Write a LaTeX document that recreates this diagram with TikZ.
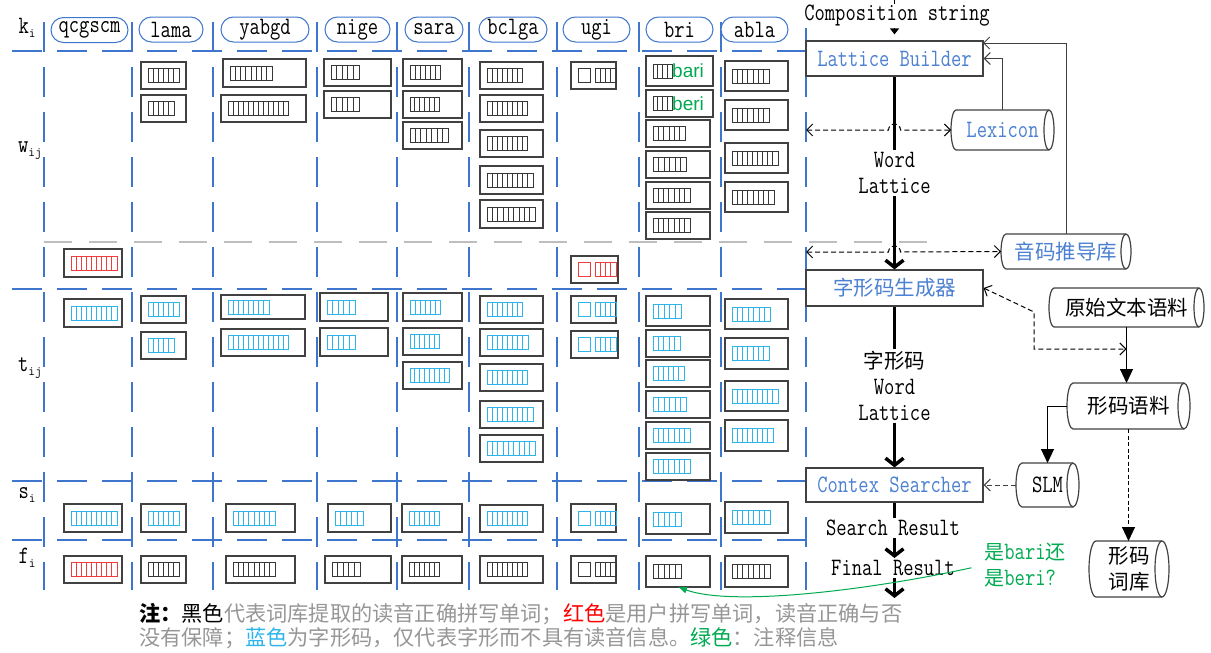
\documentclass[tikz,border=0pt]{standalone}
\usepackage{fontspec}
\usepackage{graphicx}
\newfontfamily\cjk{Noto Sans CJK SC}
\newfontfamily\gsans{Liberation Sans}
\usetikzlibrary{arrows.meta,calc}
\definecolor{gridblue}{RGB}{62,118,205}
\definecolor{tblue}{RGB}{75,128,210}
\definecolor{tk}{RGB}{55,55,55}
\definecolor{tr}{RGB}{240,60,60}
\definecolor{tc}{RGB}{45,180,235}
\definecolor{gn}{RGB}{0,170,80}
\definecolor{ngray}{RGB}{150,150,150}
\definecolor{bgray}{RGB}{65,65,65}
\definecolor{lgray}{RGB}{190,190,190}
\newcommand\tf{\ttfamily\fontsize{20}{26}\selectfont}
\newcommand\zf{\cjk\fontsize{20.5}{26}\selectfont}
\newcommand\zh[1]{{\cjk #1}}
\newcommand\st[1]{\scalebox{1}[1.25]{#1}}
\newcommand\sbs[1]{\raisebox{-4pt}{\fontsize{13}{13}\selectfont #1}}
\tikzset{
 gridline/.style={gridblue, line width=2pt, dash pattern=on 30pt off 15pt},
 grayline/.style={lgray, line width=2pt, dash pattern=on 28pt off 17pt},
 wb/.style={draw=bgray, line width=1.2pt, fill=white, rectangle, inner sep=0pt, outer sep=0pt},
 pill/.style={draw=gridblue, line width=1pt, rounded corners=12.5pt, minimum height=25pt, inner sep=0pt, font=\tf, fill=white},
 flowbox/.style={draw=bgray, line width=1.2pt, fill=white, minimum width=177pt, inner sep=0pt, font=\tf, text=tblue},
 cylst/.style={draw=bgray, line width=1.2pt, fill=white},
 cylnode/.style={inner sep=0pt, outer sep=0pt},
 thickarrow/.style={line width=3.5pt, -{Straight Barb[length=7pt,width=18pt]}},
 thickline/.style={line width=3.5pt},
 dasharrow/.style={line width=1pt, dash pattern=on 5pt off 3pt, {Straight Barb[length=6pt,width=12pt]}-{Straight Barb[length=6pt,width=12pt]}},
 thinarrow/.style={bgray, line width=1pt, -{Straight Barb[length=6pt,width=12pt]}},
 triarrow/.style={black, line width=1pt, -{Triangle[length=14pt,width=13pt]}},
 lab/.style={font=\tf, inner sep=2pt},
}
\newcommand\tofu[4]{%
  \pgfmathtruncatemacro\tfn{max(2,round((#3)/5.2))}%
  \foreach \k in {1,...,\tfn}{%
    \draw[#4,line width=0.8pt] ({#1+(\k-1)*(#3)/\tfn},{#2-7}) rectangle ({#1+\k*(#3)/\tfn},{#2+7});
  }}
\newcommand\cell[7]{%
  \node[wb, minimum width={#4-#2}, minimum height={#5-#3}] (#1) at ({(#2+#4)/2},{(#3+#5)/2}) {};
  \tofu{#2+7}{(#3+#5)/2}{#6}{#7}}
\newcommand\cellu[6]{%
  \node[wb, minimum width={#4-#2}, minimum height={#5-#3}] (#1) at ({(#2+#4)/2},{(#3+#5)/2}) {};
  \draw[#6,line width=0.8pt] ({#2+7},{(#3+#5)/2-7}) rectangle ({#2+19},{(#3+#5)/2+7});
  \tofu{#2+24}{(#3+#5)/2}{21}{#6}}
\newcommand\cyl[8]{%
  \pgfmathsetmacro\cry{(#5-#3)/2}%
  \draw[cylst] ({#2+#6},#3) -- ({#4-#6},#3) arc[start angle=90,end angle=-90,x radius={#6*1pt},y radius={\cry*1pt}] -- ({#2+#6},#5) arc[start angle=270,end angle=90,x radius={#6*1pt},y radius={\cry*1pt}] -- cycle;
  \draw[cylst, fill=none] ({#4-#6},#3) arc[start angle=90,end angle=270,x radius={#6*1pt},y radius={\cry*1pt}];
  \node[cylnode, minimum width={#4-#2}, minimum height={#5-#3}, #7] (#1) at ({(#2+#4)/2},{(#3+#5)/2}) {#8};}
\begin{document}
\begin{tikzpicture}[x=1pt,y=-1pt]
\useasboundingbox (0,0) rectangle (1211,653);
% grid
\foreach \x in {44,132,213,317,397,469,557,639,721,806} \draw[gridline] (\x,22) -- (\x,590);
\foreach \y in {51,289,481,540} \draw[gridline] (12,\y) -- (806,\y);
\draw[grayline] (44,242) -- (943,242);
% row labels
\node[lab] (lk) at (27,28) {\st{k}\sbs{i}};
\node[lab] (lw) at (30,151) {\st{w}\sbs{ij}};
\node[lab] (lt) at (30,368) {\st{t}\sbs{ij}};
\node[lab] (ls) at (27,495) {\st{s}\sbs{i}};
\node[lab] (lf) at (27,558) {\st{f}\sbs{i}};
% header
\node[pill, minimum width=77pt] (hq) at (89.5,30) {\st{qcgscm}};
\node[pill, minimum width=64pt] (hl) at (171,29.5) {\st{lama}};
\node[pill, minimum width=88pt] (hy) at (265,29.5) {\st{yabgd}};
\node[pill, minimum width=65pt] (hn) at (357.5,29.5) {\st{nige}};
\node[pill, minimum width=58pt] (hs) at (434,29.5) {\st{sara}};
\node[pill, minimum width=68pt] (hb) at (513,29.5) {\st{bclga}};
\node[pill, minimum width=67pt] (hu) at (596.5,29.5) {\st{ugi}};
\node[pill, minimum width=67pt] (hr) at (679.5,29.5) {\st{bri}};
\node[pill, minimum width=67pt] (ha) at (754.5,29.5) {\st{abla}};
% w row
\cell{wl1}{141}{62}{186}{89}{31}{tk} \cell{wl2}{141}{95}{186}{122}{26}{tk}
\cell{wy1}{223}{59}{306}{87}{42}{tk} \cell{wy2}{221}{95}{306}{122}{60}{tk}
\cell{wn1}{324}{59}{391}{86}{28}{tk} \cell{wn2}{324}{91}{391}{118}{28}{tk}
\cell{ws1}{403}{59}{462}{86}{30}{tk} \cell{ws2}{403}{91}{462}{118}{29}{tk} \cell{ws3}{403}{122}{462}{149}{38}{tk}
\cell{wb1}{480}{62}{543}{89}{35}{tk} \cell{wb2}{480}{95}{543}{122}{40}{tk} \cell{wb3}{480}{130}{543}{157}{40}{tk}
\cell{wb4}{480}{166}{543}{194}{46}{tk} \cell{wb5}{480}{200}{543}{228}{48}{tk}
\cellu{wu1}{571}{62}{616}{89}{tk}
\cell{wr1}{646}{56}{713}{86}{19}{tk} \cell{wr2}{646}{90}{713}{117}{19}{tk}
\node[anchor=west, inner sep=0pt, text=gn, font=\gsans\fontsize{19}{19}\selectfont] (gbari) at (672,71) {bari};
\node[anchor=west, inner sep=0pt, text=gn, font=\gsans\fontsize{19}{19}\selectfont] (gberi) at (672,103.5) {beri};
\cell{wr3}{646}{120}{710}{147}{32}{tk} \cell{wr4}{646}{151}{710}{178}{33}{tk}
\cell{wr5}{646}{182}{710}{209}{37}{tk} \cell{wr6}{646}{212}{710}{239}{37}{tk}
\cell{wa1}{725}{61}{788}{91}{37}{tk} \cell{wa2}{725}{100}{788}{130}{37}{tk}
\cell{wa3}{725}{143}{788}{173}{46}{tk} \cell{wa4}{725}{182}{788}{212}{42}{tk}
% red row
\cell{rq}{64}{249}{122}{277}{46}{tr} \cellu{ru}{571}{256}{618}{283}{tr}
% t row
\cell{tq}{64}{299}{122}{327}{46}{tc}
\cell{tl1}{141}{296}{186}{323}{31}{tc} \cell{tl2}{141}{332}{186}{359}{26}{tc}
\cell{ty1}{221}{295}{305}{319}{41}{tc} \cell{ty2}{221}{329}{305}{356}{60}{tc}
\cell{tn1}{320}{293}{388}{321}{28}{tc} \cell{tn2}{320}{328}{388}{356}{28}{tc}
\cell{ts1}{403}{293}{462}{321}{30}{tc} \cell{ts2}{403}{328}{462}{355}{29}{tc} \cell{ts3}{403}{362}{462}{389}{39}{tc}
\cell{tb1}{480}{296}{543}{323}{35}{tc} \cell{tb2}{480}{329}{543}{356}{41}{tc} \cell{tb3}{480}{364}{543}{391}{40}{tc}
\cell{tb4}{480}{401}{543}{428}{46}{tc} \cell{tb5}{480}{435}{543}{462}{48}{tc}
\cellu{tu1}{571}{296}{616}{323}{tc} \cellu{tu2}{571}{331}{618}{358}{tc}
\cell{tr1}{646}{296}{710}{326}{28}{tc} \cell{tr2}{646}{330}{710}{357}{27}{tc} \cell{tr3}{646}{360}{710}{387}{31}{tc}
\cell{tr4}{646}{391}{710}{418}{33}{tc} \cell{tr5}{646}{422}{710}{449}{37}{tc} \cell{tr6}{646}{453}{710}{480}{37}{tc}
\cell{ta1}{725}{299}{788}{329}{38}{tc} \cell{ta2}{725}{338}{788}{369}{37}{tc}
\cell{ta3}{725}{381}{788}{411}{46}{tc} \cell{ta4}{725}{420}{788}{451}{41}{tc}
% s row
\cell{sq}{64}{504}{122}{532}{46}{tc} \cell{sl}{141}{504}{186}{532}{31}{tc} \cell{sy}{226}{504}{295}{532}{42}{tc}
\cell{sn}{328}{504}{391}{532}{28}{tc} \cell{ss}{402}{504}{462}{532}{30}{tc} \cell{sb}{480}{505}{543}{532}{40}{tc}
\cellu{su}{571}{504}{616}{532}{tc} \cell{sr}{646}{504}{710}{534}{28}{tc} \cell{sa}{725}{502}{788}{533}{38}{tc}
% f row
\cell{fq}{64}{556}{122}{583}{46}{tr} \cell{fl}{141}{556}{186}{583}{31}{tk} \cell{fy}{226}{556}{295}{583}{42}{tk}
\cell{fn}{325}{556}{391}{583}{28}{tk} \cell{fs}{402}{556}{462}{583}{30}{tk} \cell{fb}{480}{556}{543}{583}{40}{tk}
\cellu{fu}{571}{556}{616}{583}{tk} \cell{fr}{646}{556}{710}{587}{28}{tk} \cell{fa}{725}{556}{788}{587}{38}{tk}
% flow boxes
\node[flowbox, minimum height=35pt] (lb) at (894.5,58.5) {\st{Lattice Builder}};
\node[flowbox, minimum height=36pt, font=\zf] (zx) at (894.5,288) {字形码生成器};
\node[flowbox, minimum height=34pt] (cs) at (894.5,485) {\st{Contex Searcher}};
% cylinders
\cyl{lex}{951}{110}{1054}{150}{5}{font=\tf,text=tblue}{\st{Lexicon}}
\cyl{ym}{1001}{234}{1131}{269}{5}{font=\zf,text=tblue}{音码推导库}
\cyl{yw}{1049}{288}{1204}{327}{5}{font=\zf}{原始文本语料}
\cyl{xm}{1067}{383}{1190}{429}{6}{font=\zf}{形码语料}
\cyl{slm}{1016}{463}{1079}{507}{6}{font=\tf}{\st{SLM}}
\cyl{ck}{1089}{541}{1169}{597}{7}{font=\zf,align=center}{形码\\词库}
% connectors
\coordinate (cstop) at (894.5,0);
\draw[line width=1.3pt, -{Triangle[length=6pt,width=9pt]}, shorten >=6pt] (cstop) -- (lb.north);
\node[lab, fill=white, inner sep=1pt] (cslabel) at (897,16) {\st{Composition string}};
\draw[thickarrow] (lb.south) -- (zx.north);
\node[lab, fill=white, align=center] (wlat) at (894.5,173) {\st{Word}\\\st{Lattice}};
\coordinate (gL1) at (806,130);
\draw[dasharrow] (gL1) -- (888.5,130) arc[start angle=180,end angle=0,radius=6pt] -- (lex.west);
\coordinate (gL2) at (806,252);
\draw[dasharrow] (gL2) -- (888.5,252) arc[start angle=180,end angle=0,radius=6pt] -- (ym.west);
\draw[thinarrow] (lex.north) |- (lb.east);
\coordinate (lbtr) at (983,43);
\draw[thinarrow] (ym.north) |- (lbtr);
\draw[thickarrow] (zx.south) -- (cs.north);
\node[lab, fill=white, align=center] (zwlat) at (894.5,386) {{\zf 字形码}\\\st{Word}\\\st{Lattice}};
\coordinate (ywin) at (1126.5,349);
\draw[dasharrow] (zx.east) -- (1034,312) -- (1034,349) -- (ywin);
\draw[triarrow] (yw.south) -- (yw.south |- xm.north);
\draw[triarrow] (xm.west) -| (slm.north);
\draw[triarrow, dash pattern=on 4pt off 2.5pt] (xm.south) -- (xm.south |- ck.north);
\draw[thinarrow, dash pattern=on 5pt off 3pt] (slm.west) -- (cs.east);
\node[lab] (nSR) at (893,528) {\st{Search Result}};
\node[lab] (nFR) at (893,568) {\st{Final Result}};
\coordinate (fend) at (894.5,598);
\draw[thickline] (cs.south) -- (cs.south |- nSR.north);
\draw[thickarrow] (nSR.south -| cs.south) -- (nFR.north -| cs.south);
\draw[thickarrow] (nFR.south -| cs.south) -- (fend);
% green note
\node[font=\tf, text=gn, align=left, inner sep=0pt] (gtext) at (1025,565) {\zh{是}\st{bari}\zh{还}\\\zh{是}\st{beri?}};
\draw[gn, line width=1pt, -{Latex[length=9pt,width=7pt]}, shorten <=13pt] (gtext.west) .. controls (860,592) and (730,606) .. (fr.south);
% bottom note
\node[anchor=west, inner sep=0pt, font=\cjk\fontsize{21.2}{26}\selectfont, text=ngray] (note1) at (139,614) {{\bfseries\color{black}注：}{\color{black}黑色}代表词库提取的读音正确拼写单词；{\color{red}红色}是用户拼写单词，读音正确与否};
\node[anchor=west, inner sep=0pt, font=\cjk\fontsize{21.2}{26}\selectfont, text=ngray] (note2) at (139,638) {没有保障；{\color{tc}蓝色}为字形码，仅代表字形而不具有读音信息。{\color{gn}绿色}：注释信息};
\end{tikzpicture}
\end{document}
